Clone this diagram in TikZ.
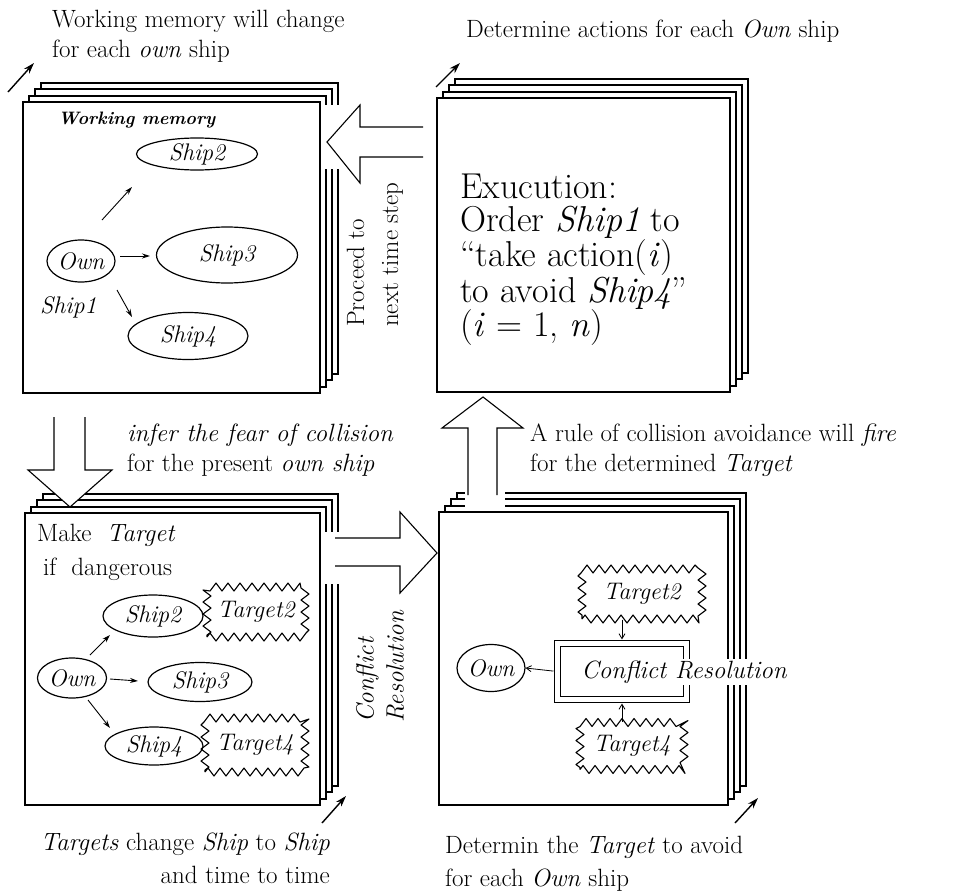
\documentclass[tikz,border=0pt]{standalone}
\usepackage{fontspec}
\usetikzlibrary{arrows.meta,shapes.geometric,decorations.pathmorphing}
\newcommand\pagestack[5]{%
  \foreach \dx/\dy in {18/19,12/13,6/6}{\draw[frame] (#2+\dx,#3-\dy) rectangle (#4+\dx,#5-\dy);}
  \node[front, minimum width=#4-#2, minimum height=#5-#3] (#1) at (#2,#3) {};}
\begin{document}
\begin{tikzpicture}[x=1pt,y=-1pt,
  frame/.style={draw, line width=1.05pt, fill=white},
  front/.style={frame, inner sep=0pt, outer sep=0pt, anchor=north west},
  oval/.style={draw, ellipse, line width=1.2pt, inner sep=0pt, font=\fontsize{24}{28}\selectfont\itshape},
  starbox/.style={draw, line width=1.1pt, line join=round, decorate, decoration={zigzag, segment length=12pt, amplitude=4pt}, inner sep=0pt, font=\fontsize{24}{28}\selectfont\itshape},
  bigarrow/.style={draw, line width=1.1pt, fill=white},
  thin/.style={-{Stealth[length=8pt,width=5pt]}, line width=0.9pt},
  barb/.style={-{Straight Barb[length=5pt,width=6pt]}, line width=0.8pt},
  corner/.style={-{Stealth[length=11pt,width=7pt]}, line width=1.4pt},
  txt/.style={inner sep=0pt, align=left, font=\fontsize{25}{30}\selectfont}]
\useasboundingbox (0,0) rectangle (953,891);

% page stacks
\pagestack{tl}{23}{102}{320}{393}
\pagestack{tr}{437}{98}{730}{392}
\pagestack{bl}{25}{513}{320}{805}
\pagestack{br}{439}{512}{728}{805}

% gaps in the stacked pages
\fill[white] (321.5,105) rectangle (343,169);
\fill[white] (321.5,532) rectangle (343,584);
\fill[white] (465,486) rectangle (505,510.5);

% big open arrows
\filldraw[bigarrow] (423,127) -- (360,127) -- (360,105) -- (327,142) -- (360,183) -- (360,157) -- (423,157);
\filldraw[bigarrow] (54,417) -- (54,470) -- (28,470) -- (70,507) -- (112,470) -- (85,470) -- (85,417);
\filldraw[bigarrow] (335,538) -- (400,538) -- (400,512) -- (437,553) -- (400,593) -- (400,566) -- (335,566);
\filldraw[bigarrow] (468,495) -- (468,428) -- (442,428) -- (483,397) -- (523,428) -- (497,428) -- (497,495);

% corner arrows
\coordinate (ca1) at (8,92);    \coordinate (cb1) at (34,63);
\coordinate (ca2) at (436,87);  \coordinate (cb2) at (460,63);
\coordinate (ca3) at (322,823); \coordinate (cb3) at (346,796);
\coordinate (ca4) at (735,823); \coordinate (cb4) at (758,798);
\draw[corner] (ca1) -- (cb1);
\draw[corner] (ca2) -- (cb2);
\draw[corner] (ca3) -- (cb3);
\draw[corner] (ca4) -- (cb4);

% captions
\node[txt, anchor=north west] (captl) at (52,10) {Working memory will change\\for each \textit{own} ship};
\node[txt, anchor=base west] (captr) at (466,38) {Determine actions for each \textit{Own} ship};
\node[txt, anchor=north west] (infer) at (127,424) {\textit{infer the fear of collision}\\for the present \textit{own ship}};
\node[txt, anchor=north west] (rule) at (530,424) {A rule of collision avoidance will \textit{fire}\\for the determined \textit{Target}};
\node[txt, align=right, anchor=north east, font=\fontsize{25}{33}\selectfont] (capbl) at (330,833) {\textit{Targets} change \textit{Ship} to \textit{Ship}\\and time to time};
\node[txt, anchor=north west, font=\fontsize{25}{33}\selectfont] (capbr) at (445,836) {Determin the \textit{Target} to avoid\\for each \textit{Own} ship};
\node[txt, rotate=90, anchor=west, font=\fontsize{25}{34}\selectfont] (proceed) at (375,327) {Proceed to\\next time step};
\node[txt, rotate=90, anchor=west, font=\fontsize{25}{30}\selectfont\itshape] (crrot) at (380,723) {Conflict\\Resolution};

% top-left box: working memory
\node[anchor=base west, inner sep=0pt, font=\fontsize{18}{22}\selectfont\bfseries\itshape] (wm) at (58,124) {Working memory};
\node[oval, minimum width=68, minimum height=42] (tlown) at (81,261) {Own};
\node[oval, minimum width=121, minimum height=32] (tls2) at (197,154) {Ship2};
\node[oval, minimum width=141, minimum height=56] (tls3) at (227,255) {Ship3};
\node[oval, minimum width=120, minimum height=47] (tls4) at (188,336) {Ship4};
\node[anchor=base west, inner sep=0pt, font=\fontsize{24}{28}\selectfont\itshape] (ship1) at (40,313) {Ship1};
\draw[thin] ([shift={(21,-41)}]tlown.center) -- ([shift={(-65,33)}]tls2.center);
\draw[thin] ([shift={(39,-5)}]tlown.center) -- ([shift={(-77,1)}]tls3.center);
\draw[thin] ([shift={(36,29)}]tlown.center) -- ([shift={(-56,-19)}]tls4.center);

% top-right box: execution
\node[anchor=north west, inner sep=0pt, align=left, font=\fontsize{36}{33}\selectfont] (exec) at (460,174)
  {Exucution:\\Order \textit{Ship1} to\\“take action(\textit{i})\\to avoid \textit{Ship4}”\\(\textit{i} = 1, \textit{n})};

% bottom-left box: make targets
\node[txt, anchor=north west, font=\fontsize{25}{34}\selectfont] (make) at (37,524) {Make\ \ \textit{Target}\\\hspace*{6pt}if\ \ dangerous};
\node[oval, minimum width=69, minimum height=40] (blown) at (72,678) {Own};
\node[oval, minimum width=100, minimum height=42] (bls2) at (153,616) {Ship2};
\node[oval, minimum width=104, minimum height=39] (bls3) at (200,682) {Ship3};
\node[oval, minimum width=98, minimum height=38] (bls4) at (154,746) {Ship4};
\node[starbox, minimum width=98, minimum height=50] (blt2) at (256,612) {Target2};
\node[starbox, minimum width=100, minimum height=54] (blt4) at (255,745) {Target4};
\draw[thin] ([shift={(18,-23)}]blown.center) -- ([shift={(-43,19)}]bls2.center);
\draw[thin] ([shift={(38,1)}]blown.center) -- ([shift={(-62,-1)}]bls3.center);
\draw[thin] ([shift={(16,22)}]blown.center) -- ([shift={(-44,-18)}]bls4.center);

% bottom-right box: conflict resolution
\node[starbox, minimum width=120, minimum height=50] (brt2) at (642,594) {Target2};
\node[oval, minimum width=68, minimum height=47] (brown) at (491,668) {Own};
\node[draw, double, double distance=5pt, line width=1.1pt, minimum width=129, minimum height=56, inner sep=0pt] (brcr) at (622,671.5) {};
\node[fill=white, inner sep=1.5pt, font=\fontsize{25}{30}\selectfont\itshape] (crtext) at (684,672) {Conflict Resolution};
\node[starbox, minimum width=104, minimum height=47] (brt4) at (632,746) {Target4};
\draw[barb, shorten <=3.5pt] (brcr.west) -- (brown.east);
\draw[barb, shorten >=3.5pt] (brt2.south -| brcr.north) -- (brcr.north);
\draw[barb, shorten >=3.5pt] (brt4.north -| brcr.south) -- (brcr.south);
\end{tikzpicture}
\end{document}
